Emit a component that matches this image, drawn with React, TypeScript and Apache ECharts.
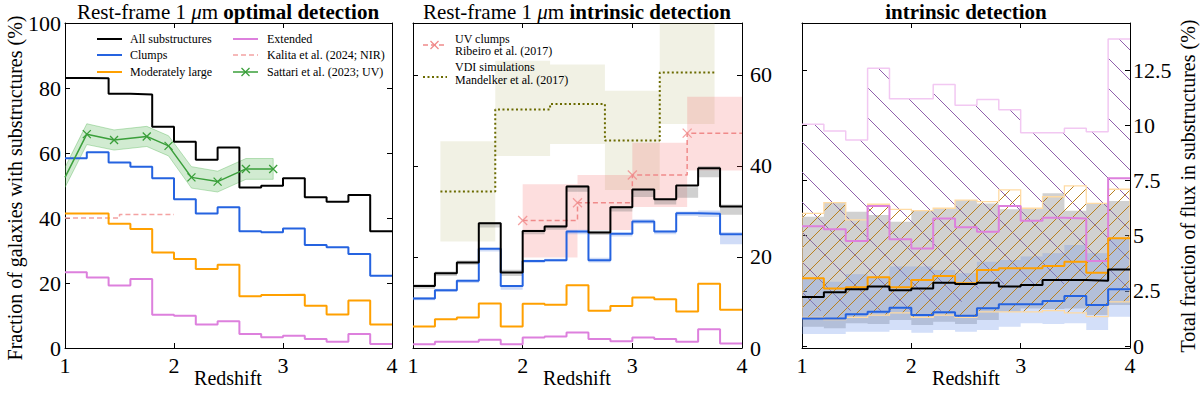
import React, { useEffect, useRef } from "react";
import * as echarts from "echarts";

// ---------- data ----------
const EDGES = [1.0, 1.2, 1.4, 1.6, 1.8, 2.0, 2.2, 2.4, 2.6, 2.8, 3.0, 3.2, 3.4, 3.6, 3.8];
const Z_END = 4.0;

// Panel 1: rest-frame 1um optimal detection (%)
const all1 = [83.1, 83.0, 78.2, 78.0, 68.1, 63.5, 57.9, 61.7, 49.4, 49.9, 52.2, 46.4, 45.0, 47.1, 35.9];
const clumps1 = [58.4, 60.2, 57.1, 55.8, 52.2, 45.8, 41.4, 43.3, 35.9, 35.6, 36.8, 31.7, 31.0, 28.9, 22.2];
const moderate1 = [41.4, 41.4, 38.2, 36.6, 29.4, 27.4, 24.3, 25.6, 15.9, 16.3, 16.4, 13.0, 10.3, 14.6, 7.2];
const extended1 = [23.3, 21.7, 19.2, 21.2, 10.2, 9.9, 7.2, 8.2, 4.3, 3.3, 3.8, 2.8, 1.9, 4.3, 1.2];
const kalitaX = [1.0, 1.5, 2.0];
const kalitaV = [40.0, 41.1, 41.1];
const sattariX = [1.0, 1.2, 1.45, 1.75, 1.95, 2.16, 2.4, 2.66, 2.91];
const sattariV = [52.5, 65.8, 64.0, 65.1, 62.2, 52.5, 51.2, 55.1, 55.1];
const sattariHi = [55.6, 69.0, 67.1, 68.2, 65.3, 55.8, 54.4, 58.3, 58.3];
const sattariLo = [49.4, 62.6, 60.9, 62.0, 59.1, 49.2, 48.0, 51.9, 51.9];

// Panel 2: rest-frame 1um intrinsic detection (%)
const all2 = [13.6, 16.4, 18.8, 27.4, 16.6, 25.7, 26.7, 35.5, 25.4, 30.9, 34.8, 32.7, 35.7, 39.5, 31.1];
const clumps2 = [10.9, 12.7, 14.8, 21.8, 13.6, 19.1, 19.3, 25.6, 19.3, 25.1, 27.8, 25.6, 29.6, 29.5, 25.0];
const moderate2 = [4.7, 6.3, 6.7, 9.8, 4.7, 9.7, 9.5, 13.8, 8.2, 9.2, 11.1, 10.7, 8.0, 14.1, 8.4];
const extended2 = [0.8, 1.4, 1.4, 1.8, 0.8, 2.3, 2.5, 3.4, 2.0, 1.5, 2.3, 2.0, 1.4, 4.1, 1.0];
const all2Lo = [13.0, 15.8, 18.3, 26.5, 15.8, 25.0, 26.0, 34.3, 24.8, 30.0, 33.2, 31.5, 33.0, 37.5, 29.3];
const all2Hi = [14.0, 16.8, 19.2, 27.6, 17.2, 26.0, 27.0, 35.8, 25.8, 31.2, 35.0, 32.8, 35.3, 40.0, 31.5];
const clumps2Lo = [10.5, 12.3, 14.3, 21.2, 12.8, 18.7, 19.0, 25.0, 18.8, 24.5, 27.3, 25.0, 29.0, 28.8, 22.8];
const clumps2Hi = [11.2, 13.0, 15.0, 22.0, 13.8, 19.4, 19.6, 26.0, 19.8, 25.4, 28.3, 25.8, 30.0, 30.2, 25.5];
const ribeiroEdges = [2.0, 2.5, 3.0, 3.5, 4.0];
const ribeiroV = [28.0, 31.9, 38.0, 47.2];
const ribeiroLo = [19.9, 25.9, 31.0, 39.0];
const ribeiroHi = [36.0, 38.0, 45.1, 55.2];
const mandelkerEdges = [1.25, 1.75, 2.25, 2.75, 3.25, 3.75];
const mandelkerV = [34.4, 52.4, 53.6, 45.6, 60.5];
const mandelkerLo = [23.4, 42.2, 44.8, 34.7, 49.2];
const mandelkerHi = [45.4, 63.1, 62.3, 56.5, 71.8];
const P2_TICKS = [0, 20, 40, 60];

// Panel 3: total fraction of flux in substructures (%)
const all3 = [2.22, 2.44, 2.57, 2.69, 2.52, 2.6, 2.87, 2.81, 2.87, 2.7, 2.76, 2.99, 2.99, 2.96, 3.47];
const clumps3 = [1.25, 1.25, 1.44, 1.55, 1.73, 1.4, 1.53, 1.37, 1.71, 1.89, 1.89, 2.04, 2.26, 1.86, 2.57];
const moderate3 = [3.07, 2.61, 2.66, 3.11, 2.66, 2.99, 3.17, 2.84, 3.44, 3.52, 3.52, 3.62, 3.82, 3.32, 4.88];
const extended3 = [5.43, 5.29, 4.76, 6.34, 4.83, 4.42, 5.78, 5.38, 5.18, 6.34, 5.67, 5.81, 5.78, 3.85, 7.6];
const all3Lo = [0.87, 0.81, 1.03, 1.0, 1.18, 0.95, 1.1, 1.0, 1.18, 1.55, 1.7, 1.68, 1.7, 1.4, 1.86];
const all3Hi = [5.86, 6.49, 6.08, 5.93, 5.63, 6.13, 6.24, 6.61, 6.46, 6.19, 6.24, 6.92, 6.13, 6.43, 6.57];
const clumps3Lo = [0.54, 0.54, 0.65, 0.65, 0.72, 0.6, 0.72, 0.65, 0.72, 0.87, 1.03, 1.0, 1.03, 0.72, 1.33];
const clumps3Hi = [3.07, 2.91, 3.25, 3.14, 3.6, 3.6, 3.44, 3.3, 3.82, 3.9, 4.05, 4.2, 4.57, 4.2, 4.9];
const moderate3Lo = [1.3, 1.2, 1.3, 1.4, 1.5, 1.3, 1.4, 1.3, 1.55, 1.55, 1.55, 1.6, 1.5, 1.33, 2.0];
const moderate3Hi = [6.01, 6.49, 5.71, 6.42, 6.19, 6.13, 6.24, 6.61, 6.54, 7.07, 6.24, 6.76, 7.25, 6.46, 7.1];
const extended3Lo = [1.6, 1.6, 1.6, 1.6, 1.6, 1.6, 1.6, 2.0, 2.6, 2.8, 2.8, 2.8, 3.0, 3.4, 2.6];
const extended3Hi = [10.04, 9.74, 9.33, 12.58, 11.2, 11.2, 11.85, 10.9, 11.17, 10.7, 9.66, 9.66, 9.86, 9.7, 13.9];
const P3_TICKS = [0, 2.5, 5, 7.5, 10, 12.5];

// ---------- style ----------
const SERIF = "'Liberation Serif', 'DejaVu Serif', serif";
const C_ALL = "#000000";
const C_CLUMP = "#2563e0";
const C_MOD = "#ffa000";
const C_EXT = "#dd80dd";
const C_KALITA = "#f4a2a2";
const C_SATTARI = "#3a9f3a";
const C_RIBEIRO = "#f08a8a";
const C_MANDEL = "#6b6b00";

function stepData(edges: number[], vals: number[], end: number) {
  const d = edges.slice(0, vals.length).map((z, i) => [z, vals[i]]);
  d.push([end, vals[vals.length - 1]]);
  return d;
}

function stepLine(ax: number, vals: number[], color: string, extra: any = {}) {
  return {
    type: "line",
    xAxisIndex: ax * 2,
    yAxisIndex: ax * 2,
    step: "end",
    data: stepData(EDGES, vals, Z_END),
    showSymbol: false,
    silent: true,
    lineStyle: { color, width: 2 },
    z: 10,
    ...extra,
  };
}

function stepBand(ax: number, lo: number[], hi: number[], style: any, z: number) {
  return {
    type: "custom",
    xAxisIndex: ax * 2,
    yAxisIndex: ax * 2,
    clip: true,
    silent: true,
    z,
    data: [[2.5, 1]],
    encode: { x: 0, y: 1 },
    renderItem: (_p: any, api: any) => {
      const pts: number[][] = [];
      const n = lo.length;
      for (let i = 0; i < n; i++) {
        const x0 = EDGES[i];
        const x1 = i + 1 < n ? EDGES[i + 1] : Z_END;
        pts.push(api.coord([x0, hi[i]]), api.coord([x1, hi[i]]));
      }
      for (let i = n - 1; i >= 0; i--) {
        const x0 = EDGES[i];
        const x1 = i + 1 < n ? EDGES[i + 1] : Z_END;
        pts.push(api.coord([x1, lo[i]]), api.coord([x0, lo[i]]));
      }
      return { type: "polygon", shape: { points: pts }, style };
    },
  };
}

function boxes(ax: number, edges: number[], lo: number[], hi: number[], fill: string, z: number) {
  return {
    type: "custom",
    xAxisIndex: ax * 2,
    yAxisIndex: ax * 2,
    clip: true,
    silent: true,
    z,
    data: lo.map((l, i) => [edges[i], edges[i + 1], l, hi[i]]),
    encode: { x: [0, 1], y: [2, 3] },
    renderItem: (_p: any, api: any) => {
      const a = api.coord([api.value(0), api.value(3)]);
      const b = api.coord([api.value(1), api.value(2)]);
      return {
        type: "rect",
        shape: { x: a[0], y: a[1], width: b[0] - a[0], height: b[1] - a[1] },
        style: { fill },
      };
    },
  };
}

function makeHatch(size: number, dir: string, color: string, lw: number) {
  const cv = document.createElement("canvas");
  cv.width = size;
  cv.height = size;
  const ctx = cv.getContext("2d")!;
  ctx.strokeStyle = color;
  ctx.lineWidth = lw;
  for (const c of [-size, 0, size]) {
    ctx.beginPath();
    if (dir === "\\") {
      ctx.moveTo(0, c);
      ctx.lineTo(size, c + size);
    } else {
      ctx.moveTo(0, c + size);
      ctx.lineTo(size, c);
    }
    ctx.stroke();
  }
  return { image: cv.toDataURL(), repeat: "repeat", imageWidth: size, imageHeight: size };
}

const XSYM = "path://M0,0L10,10M10,0L0,10";

export default function App() {
  const ref = useRef<HTMLDivElement>(null);
  useEffect(() => {
    document.body.style.margin = "0";
    const chart = echarts.init(ref.current!, null, { renderer: "svg" });

    const tickLbl = { fontFamily: SERIF, fontSize: 22, color: "#000" };
    const axisBase = {
      axisLine: { show: true, onZero: false, lineStyle: { color: "#000", width: 1 } },
      axisTick: { show: true, inside: true, length: 5, lineStyle: { color: "#000", width: 1 } },
      splitLine: { show: false },
    };
    const grids = [
      { left: 65, top: 23, width: 327, height: 325 },
      { left: 413, top: 23, width: 329, height: 325 },
      { left: 802, top: 23, width: 328, height: 325 },
    ];
    const xAxes: any[] = [];
    const yAxes: any[] = [];
    for (let g = 0; g < 3; g++) {
      xAxes.push({ ...axisBase, type: "value", gridIndex: g, position: "bottom", min: 1, max: 4, interval: 1,
        axisLabel: { ...tickLbl, margin: 6 } });
      xAxes.push({ ...axisBase, type: "value", gridIndex: g, position: "top", min: 1, max: 4, interval: 1,
        axisLabel: { show: false } });
    }
    // panel 1
    yAxes.push({ ...axisBase, type: "value", gridIndex: 0, position: "left", min: 0, max: 100, interval: 20,
      axisLabel: { ...tickLbl, margin: 4 } });
    yAxes.push({ ...axisBase, type: "value", gridIndex: 0, position: "right", min: 0, max: 100, interval: 20,
      axisLabel: { show: false } });
    // panel 2
    yAxes.push({ ...axisBase, type: "value", gridIndex: 1, position: "left", min: 0, max: 71.4,
      axisTick: { ...axisBase.axisTick, customValues: P2_TICKS },
      axisLabel: { show: false } });
    yAxes.push({ ...axisBase, type: "value", gridIndex: 1, position: "right", min: 0, max: 71.4,
      axisTick: { ...axisBase.axisTick, customValues: P2_TICKS },
      axisLabel: { ...tickLbl, margin: 8, customValues: P2_TICKS } });
    // panel 3
    yAxes.push({ ...axisBase, type: "value", gridIndex: 2, position: "left", min: -0.09, max: 14.63,
      axisTick: { ...axisBase.axisTick, customValues: P3_TICKS },
      axisLabel: { show: false } });
    yAxes.push({ ...axisBase, type: "value", gridIndex: 2, position: "right", min: -0.09, max: 14.63,
      axisTick: { ...axisBase.axisTick, customValues: P3_TICKS },
      axisLabel: { ...tickLbl, margin: 3, customValues: P3_TICKS, formatter: (v: number) => String(v) } });

    const purpleHatch = makeHatch(30, "\\", "#9060ac", 1);
    const orangeHatch = makeHatch(15, "/", "#b8801e", 1);

    const series: any[] = [
      // ---- panel 1
      {
        type: "custom", xAxisIndex: 0, yAxisIndex: 0, clip: true, silent: true, z: 3,
        data: [[2, 60]], encode: { x: 0, y: 1 },
        renderItem: (_p: any, api: any) => {
          const pts: number[][] = [];
          sattariX.forEach((x, i) => pts.push(api.coord([x, sattariHi[i]])));
          for (let i = sattariX.length - 1; i >= 0; i--) pts.push(api.coord([sattariX[i], sattariLo[i]]));
          return { type: "polygon", shape: { points: pts },
            style: { fill: "rgba(70,175,70,0.25)", stroke: "rgba(70,175,70,0.35)", lineWidth: 1 } };
        },
      },
      stepLine(0, extended1, C_EXT),
      stepLine(0, moderate1, C_MOD),
      stepLine(0, clumps1, C_CLUMP),
      stepLine(0, all1, C_ALL),
      {
        type: "line", xAxisIndex: 0, yAxisIndex: 0, step: "end", silent: true, z: 9,
        data: stepData(kalitaX, kalitaV.slice(0, 2), kalitaX[2]),
        showSymbol: false, lineStyle: { color: C_KALITA, width: 1.5, type: [5, 3] },
      },
      {
        type: "line", xAxisIndex: 0, yAxisIndex: 0, silent: true, z: 11,
        data: sattariX.map((x, i) => ({ value: [x, sattariV[i]], symbol: i === 0 ? "none" : XSYM })),
        symbolSize: 8, showSymbol: true,
        itemStyle: { color: "none", borderColor: C_SATTARI, borderWidth: 1.3 },
        lineStyle: { color: C_SATTARI, width: 1.5 },
      },
      // ---- panel 2
      boxes(1, mandelkerEdges, mandelkerLo, mandelkerHi, "rgba(165,165,90,0.16)", 1),
      boxes(1, ribeiroEdges, ribeiroLo, ribeiroHi, "rgba(245,90,90,0.2)", 2),
      stepBand(1, all2Lo, all2Hi, { fill: "rgba(120,120,120,0.35)" }, 3),
      stepBand(1, clumps2Lo, clumps2Hi, { fill: "rgba(100,140,230,0.3)" }, 3),
      {
        type: "line", xAxisIndex: 2, yAxisIndex: 2, step: "end", silent: true, z: 9,
        data: stepData(mandelkerEdges, mandelkerV, mandelkerEdges[5]),
        showSymbol: false, lineStyle: { color: C_MANDEL, width: 2, type: [2, 2.5] },
      },
      {
        type: "line", xAxisIndex: 2, yAxisIndex: 2, step: "end", silent: true, z: 9,
        data: stepData(ribeiroEdges, ribeiroV, ribeiroEdges[4]),
        showSymbol: false, lineStyle: { color: C_RIBEIRO, width: 1.5, type: [5, 3] },
      },
      {
        type: "scatter", xAxisIndex: 2, yAxisIndex: 2, silent: true, z: 9,
        data: ribeiroV.map((v, i) => [ribeiroEdges[i], v]),
        symbol: XSYM, symbolSize: 9,
        itemStyle: { color: "none", borderColor: C_RIBEIRO, borderWidth: 1.3 },
      },
      stepLine(1, extended2, C_EXT),
      stepLine(1, moderate2, C_MOD),
      stepLine(1, clumps2, C_CLUMP),
      stepLine(1, all2, C_ALL),
      // ---- panel 3
      stepBand(2, extended3Lo, extended3Hi, { fill: purpleHatch }, 2),
      stepLine(2, extended3Hi, "#f2c8f2", { lineStyle: { color: "#f2c8f2", width: 1.5 }, z: 2 }),
      stepBand(2, all3Lo, all3Hi, { fill: "rgba(128,128,128,0.36)" }, 3),
      stepBand(2, clumps3Lo, clumps3Hi, { fill: "rgba(110,150,235,0.3)" }, 4),
      stepBand(2, moderate3Lo, moderate3Hi, { fill: orangeHatch, stroke: "#ffdba4", lineWidth: 1.3 }, 5),
      stepLine(2, extended3, C_EXT),
      stepLine(2, moderate3, C_MOD),
      stepLine(2, clumps3, C_CLUMP),
      stepLine(2, all3, C_ALL),
    ];

    const leg = (x: number, y: number, t: string) => ({
      type: "text", x, y, z: 100,
      style: { text: t, fontFamily: SERIF, fontSize: 12, fill: "#000", align: "left", verticalAlign: "middle",
        textAlign: "left", textVerticalAlign: "middle" },
    });
    const legLine = (x1: number, x2: number, y: number, color: string, w: number, dash?: number[]) => ({
      type: "line", z: 100, shape: { x1, y1: y, x2, y2: y },
      style: { stroke: color, lineWidth: w, lineDash: dash || null },
    });
    const xMark = (cx: number, cy: number, r: number, color: string) => ([
      { type: "line", z: 101, shape: { x1: cx - r, y1: cy - r, x2: cx + r, y2: cy + r }, style: { stroke: color, lineWidth: 1.3 } },
      { type: "line", z: 101, shape: { x1: cx - r, y1: cy + r, x2: cx + r, y2: cy - r }, style: { stroke: color, lineWidth: 1.3 } },
    ]);
    const title = (x: number, parts: string) => ({
      type: "text", x, y: 12, z: 100,
      style: {
        text: parts, align: "center", verticalAlign: "middle", textAlign: "center", textVerticalAlign: "middle",
        fill: "#000",
        rich: {
          n: { fontFamily: SERIF, fontSize: 21, fill: "#000" },
          i: { fontFamily: SERIF, fontSize: 21, fontStyle: "italic", fill: "#000" },
          b: { fontFamily: SERIF, fontSize: 21, fontWeight: "bold", fill: "#000" },
        },
      },
    });
    const label = (x: number, y: number, t: string, size: number, rot = 0) => ({
      type: "text", x, y, rotation: rot, z: 100,
      style: { text: t, fontFamily: SERIF, fontSize: size, fill: "#000", align: "center", verticalAlign: "middle",
        textAlign: "center", textVerticalAlign: "middle" },
    });

    const graphic: any[] = [
      title(228, "{n|Rest-frame 1 }{i|\u03bc}{n|m }{b|optimal detection}"),
      title(577, "{n|Rest-frame 1 }{i|\u03bc}{n|m }{b|intrinsic detection}"),
      title(966, "{b|intrinsic detection}"),
      label(228, 378, "Redshift", 20),
      label(577, 378, "Redshift", 20),
      label(966, 378, "Redshift", 20),
      label(15, 188, "Fraction of galaxies with substructures (%)", 20, Math.PI / 2),
      label(1188, 186, "Total fraction of flux in substructures (%)", 20, Math.PI / 2),
      // panel 1 legend
      legLine(97, 122, 39, C_ALL, 2), leg(130, 39, "All substructures"),
      legLine(97, 122, 55, C_CLUMP, 2), leg(130, 55, "Clumps"),
      legLine(97, 122, 72, C_MOD, 2), leg(130, 72, "Moderately large"),
      legLine(233, 258, 39, C_EXT, 2), leg(267, 39, "Extended"),
      legLine(233, 258, 55, C_KALITA, 1.5, [5, 3]), leg(267, 55, "Kalita et al. (2024; NIR)"),
      legLine(233, 258, 72, C_SATTARI, 1.5), ...xMark(245.5, 72, 4, C_SATTARI), leg(267, 72, "Sattari et al. (2023; UV)"),
      // panel 2 legend
      legLine(423, 446, 45, C_RIBEIRO, 1.5, [5, 3]), ...xMark(434.5, 45, 4, C_RIBEIRO),
      leg(455, 39, "UV clumps"), leg(455, 51, "Ribeiro et al. (2017)"),
      legLine(423, 447, 77, C_MANDEL, 2, [2, 2.5]),
      leg(455, 67, "VDI simulations"), leg(455, 80, "Mandelker et al. (2017)"),
    ];

    chart.setOption({
      animation: false,
      backgroundColor: "#fff",
      grid: grids,
      xAxis: xAxes,
      yAxis: yAxes,
      series,
      graphic,
    });
    return () => chart.dispose();
  }, []);
  return <div ref={ref} style={{ width: 1200, height: 396 }} />;
}
